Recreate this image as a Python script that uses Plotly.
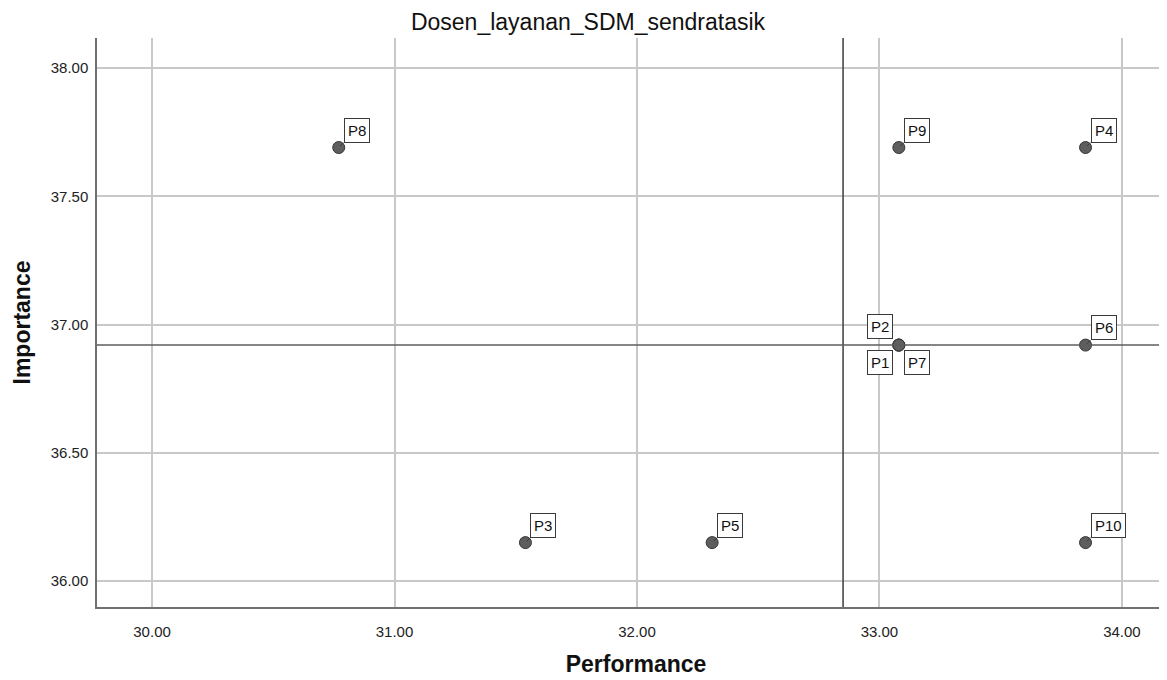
import plotly.graph_objects as go

labels = ["P1", "P2", "P3", "P4", "P5", "P6", "P7", "P8", "P9", "P10"]
performance = [33.08, 33.08, 31.54, 33.85, 32.31, 33.85, 33.08, 30.77, 33.08, 33.85]
importance = [36.92, 36.92, 36.15, 37.69, 36.15, 36.92, 36.92, 37.69, 37.69, 36.15]
mean_performance = 32.85
mean_importance = 36.92
x_ticks = [30, 31, 32, 33, 34]
y_ticks = [36.0, 36.5, 37.0, 37.5, 38.0]

FONT = "Liberation Sans, Arial, sans-serif"

# label offsets (pixels) and anchors for the overlapping points
label_pos = {
    "P1": (-6, 5, "right", "top"),
    "P2": (-6, -6, "right", "bottom"),
    "P7": (5, 5, "left", "top"),
}

fig = go.Figure()
fig.add_trace(go.Scatter(
    x=performance, y=importance, mode="markers",
    marker=dict(size=12, color="#5e5e5e", line=dict(color="#333333", width=1)),
    showlegend=False, hoverinfo="text", text=labels,
))

fig.add_shape(type="line", xref="x", yref="paper", x0=mean_performance, x1=mean_performance,
              y0=0, y1=1, line=dict(color="#3c3c3c", width=1.5))
fig.add_shape(type="line", xref="paper", yref="y", x0=0, x1=1,
              y0=mean_importance, y1=mean_importance, line=dict(color="#5e5e5e", width=1.5))

for lab, px, py in zip(labels, performance, importance):
    common = dict(font=dict(family=FONT, size=15, color="#111"),
                  bgcolor="white", bordercolor="#3a3a3a", borderwidth=1, borderpad=3)
    if lab in label_pos:
        dx, dy, xa, ya = label_pos[lab]
        fig.add_annotation(x=px, y=py, text=lab, showarrow=False, xshift=dx, yshift=-dy,
                           xanchor=xa, yanchor=ya, **common)
    else:
        fig.add_annotation(x=px, y=py, text=lab, showarrow=True, arrowhead=0, arrowwidth=1,
                           arrowcolor="#3a3a3a", ax=5, ay=-5, xanchor="left", yanchor="bottom",
                           standoff=2, **common)

fig.update_layout(
    width=1167, height=680,
    paper_bgcolor="white", plot_bgcolor="white",
    margin=dict(l=89, r=0, t=30, b=81),
    title=dict(text="Dosen_layanan_SDM_sendratasik", xref="container", x=0.497, xanchor="center",
               yref="container", y=1 - 14 / 680, yanchor="middle",
               font=dict(family=FONT, size=23, color="#111")),
    font=dict(family=FONT, color="#222"),
)
fig.update_xaxes(
    range=[29.773, 34.219], tickvals=x_ticks, ticktext=[f"{v:.2f}" for v in x_ticks],
    showgrid=True, gridcolor="#c8c8c8", gridwidth=1.5,
    showline=True, linecolor="#707070", linewidth=1.5, zeroline=False, ticks="",
    tickfont=dict(size=15, color="#222"), ticklabelstandoff=10,
    title=dict(text="<b>Performance</b>", font=dict(size=23, color="#111"), standoff=17),
)
fig.update_yaxes(
    range=[35.899, 38.117], tickvals=y_ticks, ticktext=[f"{v:.2f}" for v in y_ticks],
    showgrid=True, gridcolor="#c8c8c8", gridwidth=1.5,
    showline=True, linecolor="#707070", linewidth=1.5, zeroline=False, ticks="",
    tickfont=dict(size=15, color="#222"), ticklabelstandoff=4,
    title=dict(text="<b>Importance</b>", font=dict(size=23, color="#111"), standoff=14),
)

fig.write_html("out.html")
